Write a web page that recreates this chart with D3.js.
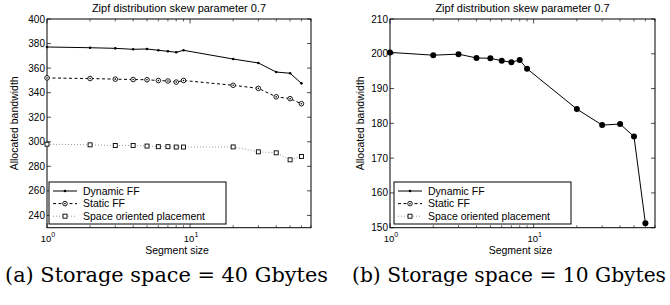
<!DOCTYPE html>
<html>
<head>
<meta charset="utf-8">
<script src="https://cdn.jsdelivr.net/npm/d3@7"></script>
<style>
  body { margin: 0; background: #fff; }
</style>
</head>
<body>
<div id="chart"></div>
<script>
const width = 670, height = 305;

// data
const segSize = [1, 2, 3, 4, 5, 6, 7, 8, 9, 20, 30, 40, 50, 60];
const dynamic40 = [377.2, 376.6, 376.1, 375.3, 375.6, 374.5, 373.7, 372.9, 374.5, 367.4, 364.2, 356.8, 355.8, 347.6];
const static40 = [352, 351.5, 351, 350.7, 350.5, 349.9, 349.5, 348.6, 349.9, 346, 343.5, 336.6, 335.1, 331];
const space40 = [298, 297.5, 297, 297, 296.5, 296, 296, 295.7, 295.7, 295.8, 291.8, 291, 285.3, 288];
const dynamic10 = [200.4, 199.6, 199.9, 198.8, 198.7, 198.0, 197.6, 198.2, 195.7, 184.1, 179.5, 179.8, 176.2, 151.3];

const yTicks40 = [240, 260, 280, 300, 320, 340, 360, 380, 400];
const yTicks10 = [150, 160, 170, 180, 190, 200, 210];
const legendNames = ["Dynamic FF", "Static FF", "Space oriented placement"];
const title = "Zipf distribution skew parameter 0.7";

const sans = "Liberation Sans, Arial, Helvetica, sans-serif";
const serif = "'DejaVu Serif', 'Liberation Serif', serif";

const svg = d3.select("#chart")
	.append("svg")
	.attr("width", width)
	.attr("height", height)
	.attr("font-family", sans);

function drawPanel(opt) {
	const x = d3.scaleLog().domain([1, 70]).range([opt.left, opt.right]);
	const y = d3.scaleLinear().domain(opt.yDomain).range([227.7, 19]);
	const g = svg.append("g");

	// ticks: minor on x, inside, both sides
	const minor = [2,3,4,5,6,7,8,9,20,30,40,50,60,70];
	const major = [1, 10];
	[y.range()[0], y.range()[1]].forEach((yy, i) => {
		const dir = i === 0 ? -1 : 1;
		g.selectAll(null).data(minor).enter().append("line")
			.attr("x1", d => x(d)).attr("x2", d => x(d))
			.attr("y1", yy).attr("y2", yy + dir * 2.5)
			.attr("stroke", "#000").attr("stroke-width", 0.6);
		g.selectAll(null).data(major).enter().append("line")
			.attr("x1", d => x(d)).attr("x2", d => x(d))
			.attr("y1", yy).attr("y2", yy + dir * 4.5)
			.attr("stroke", "#000").attr("stroke-width", 0.7);
	});
	[opt.left, opt.right].forEach((xx, i) => {
		const dir = i === 0 ? 1 : -1;
		g.selectAll(null).data(opt.yTicks).enter().append("line")
			.attr("x1", xx).attr("x2", xx + dir * 4)
			.attr("y1", d => y(d)).attr("y2", d => y(d))
			.attr("stroke", "#000").attr("stroke-width", 0.7);
	});

	// y tick labels
	g.selectAll(null).data(opt.yTicks).enter().append("text")
		.attr("x", opt.left - 2).attr("y", d => y(d) + 3.5)
		.attr("text-anchor", "end").attr("font-size", 10)
		.text(d => d);

	// x tick labels 10^0, 10^1
	major.forEach((m, i) => {
		const t = g.append("text")
			.attr("x", x(m) + 1).attr("y", 242)
			.attr("text-anchor", "middle").attr("font-size", 9.5);
		t.append("tspan").text("10");
		t.append("tspan").attr("font-size", 7).attr("dy", -5).text(i);
	});

	// frame
	g.append("rect")
		.attr("x", opt.left).attr("y", 19)
		.attr("width", opt.right - opt.left).attr("height", 227.7 - 19)
		.attr("fill", "none").attr("stroke", "#000").attr("stroke-width", 1);

	// titles
	g.append("text")
		.attr("x", (opt.left + opt.right) / 2).attr("y", 12)
		.attr("text-anchor", "middle").attr("font-size", 11)
		.text(title);
	g.append("text")
		.attr("x", (opt.left + opt.right) / 2 - 2).attr("y", 254)
		.attr("text-anchor", "middle").attr("font-size", 10.5)
		.text("Segment size");
	g.append("text")
		.attr("transform", `translate(${opt.labelX},${(19 + 227.7) / 2}) rotate(-90)`)
		.attr("text-anchor", "middle").attr("font-size", 10.5)
		.text("Allocated bandwidth");

	const line = d3.line()
		.x((d, i) => x(segSize[i]))
		.y(d => y(d));

	opt.series.forEach(s => {
		g.append("path")
			.datum(s.values)
			.attr("d", line)
			.attr("fill", "none")
			.attr("stroke", s.stroke)
			.attr("stroke-width", s.width)
			.attr("stroke-dasharray", s.dash);
		drawMarkers(g, s.values.map((v, i) => [x(segSize[i]), y(v)]), s.marker);
	});

	// legend
	const lg = g.append("g").attr("transform", `translate(${opt.legendX},182)`);
	lg.append("rect")
		.attr("width", 177).attr("height", 42)
		.attr("fill", "#fff").attr("stroke", "#000").attr("stroke-width", 1);
	const styles = [
		{stroke: "#000", width: 1, dash: null, marker: "dot"},
		{stroke: "#000", width: 1, dash: "3,2.5", marker: "circle"},
		{stroke: "#999", width: 1, dash: "1,2", marker: "square"}
	];
	legendNames.forEach((name, i) => {
		const yy = 9 + i * 12.6;
		lg.append("line")
			.attr("x1", 4).attr("x2", 28).attr("y1", yy).attr("y2", yy)
			.attr("stroke", styles[i].stroke).attr("stroke-width", styles[i].width)
			.attr("stroke-dasharray", styles[i].dash);
		drawMarkers(lg, [[16, yy]], styles[i].marker);
		lg.append("text")
			.attr("x", 34).attr("y", yy + 3.8)
			.attr("font-size", 10.5)
			.text(name);
	});
}

function drawMarkers(g, pts, type) {
	if (type === "dot") {
		g.selectAll(null).data(pts).enter().append("circle")
			.attr("cx", d => d[0]).attr("cy", d => d[1]).attr("r", 1.3)
			.attr("fill", "#000");
	} else if (type === "bigdot") {
		g.selectAll(null).data(pts).enter().append("circle")
			.attr("cx", d => d[0]).attr("cy", d => d[1]).attr("r", 3)
			.attr("fill", "#000");
	} else if (type === "circle") {
		g.selectAll(null).data(pts).enter().append("circle")
			.attr("cx", d => d[0]).attr("cy", d => d[1]).attr("r", 2.3)
			.attr("fill", "#fff").attr("stroke", "#000").attr("stroke-width", 0.9);
		g.selectAll(null).data(pts).enter().append("circle")
			.attr("cx", d => d[0]).attr("cy", d => d[1]).attr("r", 0.8)
			.attr("fill", "#000");
	} else if (type === "square") {
		g.selectAll(null).data(pts).enter().append("rect")
			.attr("x", d => d[0] - 2).attr("y", d => d[1] - 2)
			.attr("width", 4).attr("height", 4)
			.attr("fill", "#fff").attr("stroke", "#000").attr("stroke-width", 0.9);
	}
}

drawPanel({
	left: 47, right: 311, yDomain: [230, 400], yTicks: yTicks40, labelX: 18, legendX: 49,
	series: [
		{values: space40, stroke: "#999", width: 1, dash: "1,2", marker: "square"},
		{values: static40, stroke: "#000", width: 1, dash: "3,2.5", marker: "circle"},
		{values: dynamic40, stroke: "#000", width: 1, dash: null, marker: "dot"}
	]
});

drawPanel({
	left: 390, right: 655, yDomain: [150, 210], yTicks: yTicks10, labelX: 364, legendX: 394,
	series: [
		{values: dynamic10, stroke: "#000", width: 1, dash: null, marker: "bigdot"}
	]
});

svg.append("text")
	.attr("font-family", serif).attr("font-size", 20)
	.attr("x", 5).attr("y", 282)
	.attr("textLength", 323).attr("lengthAdjust", "spacingAndGlyphs")
	.text("(a) Storage space = 40 Gbytes");
svg.append("text")
	.attr("font-family", serif).attr("font-size", 20)
	.attr("x", 352).attr("y", 282)
	.attr("textLength", 314).attr("lengthAdjust", "spacingAndGlyphs")
	.text("(b) Storage space = 10 Gbytes");
</script>
</body>
</html>
